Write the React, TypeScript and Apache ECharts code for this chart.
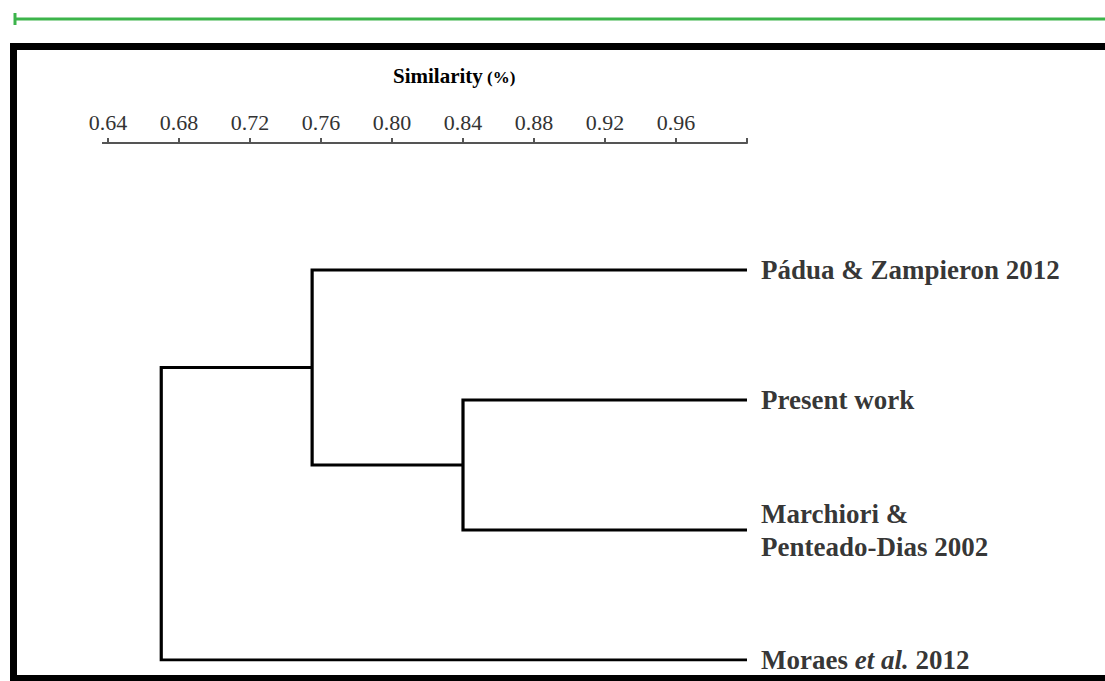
import React, { useEffect, useRef } from "react";
import * as echarts from "echarts";

const leafLabels = [
  "Pádua & Zampieron 2012",
  "Present work",
  "Marchiori &\nPenteado-Dias 2002",
  "{b|Moraes }{i|et al.}{b| 2012}",
];
const leafSimilarity = 1.0;
// merges: [childA, childB, similarity]; children: leaf index (number) or "n<k>" for merge k
const mergeA = [1, 0, "n1"];
const mergeB = [2, "n0", 3];
const mergeSimilarity = [0.84, 0.755, 0.67];
const xTicks = [0.64, 0.68, 0.72, 0.76, 0.8, 0.84, 0.88, 0.92, 0.96];
const axisTitle = "Similarity";
const axisUnit = "(%)";

const FONT = "Liberation Serif";

export default function App() {
  const ref = useRef<HTMLDivElement>(null);
  useEffect(() => {
    const chart = echarts.init(ref.current!, null, { renderer: "svg" });
    const nodePos: Record<string, [number, number]> = {};
    leafLabels.forEach((_, i) => (nodePos[String(i)] = [leafSimilarity, i]));
    const series: any[] = [];
    mergeSimilarity.forEach((h, k) => {
      const p1 = nodePos[String(mergeA[k])];
      const p2 = nodePos[String(mergeB[k])];
      series.push({
        type: "line",
        data: [
          [p1[0], p1[1]],
          [h, p1[1]],
          [h, p2[1]],
          [p2[0], p2[1]],
        ],
        symbol: "none",
        lineStyle: { color: "#000", width: 3.2, join: "miter" },
        silent: true,
      });
      nodePos["n" + k] = [h, (p1[1] + p2[1]) / 2];
    });
    series.push({
      type: "scatter",
      data: leafLabels.map((l, i) => ({ value: [leafSimilarity, i], name: l })),
      symbolSize: 0,
      label: {
        show: true,
        position: "right",
        distance: 14,
        formatter: (p: any) => p.name,
        color: "#000",
        fontFamily: FONT,
        fontWeight: "bold",
        fontSize: 27,
        lineHeight: 33,
        rich: {
          b: { fontFamily: FONT, fontWeight: "bold", fontSize: 27, color: "#000" },
          i: { fontFamily: FONT, fontWeight: "bold", fontStyle: "italic", fontSize: 27, color: "#000" },
        },
      },
      silent: true,
    });

    chart.setOption({
      animation: false,
      backgroundColor: "#fff",
      grid: { left: 108, right: 358, top: 143, height: 517 },
      xAxis: {
        type: "value",
        position: "top",
        min: 0.64,
        max: 1.0,
        interval: 0.04,
        splitLine: { show: false },
        axisLine: { show: true, onZero: false, lineStyle: { color: "#555", width: 2 } },
        axisTick: { show: true, length: 5, lineStyle: { color: "#555", width: 2 } },
        axisLabel: {
          margin: 10,
          color: "#333",
          fontFamily: FONT,
          fontSize: 22,
          formatter: (v: number) =>
            xTicks.some((t) => Math.abs(t - v) < 1e-6) ? v.toFixed(2) : "",
        },
      },
      yAxis: {
        type: "value",
        inverse: true,
        min: -0.977,
        max: 3,
        show: false,
      },
      graphic: [
        {
          type: "line",
          shape: { x1: 15, y1: 19, x2: 1105, y2: 19 },
          style: { stroke: "#3cb44b", lineWidth: 3 },
        },
        {
          type: "line",
          shape: { x1: 15, y1: 13, x2: 15, y2: 25 },
          style: { stroke: "#3cb44b", lineWidth: 3 },
        },
        {
          type: "line",
          shape: { x1: 102, y1: 143, x2: 108, y2: 143 },
          style: { stroke: "#555", lineWidth: 2 },
        },
        {
          type: "rect",
          shape: { x: 13.5, y: 46.5, width: 1200, height: 632 },
          style: { fill: "none", stroke: "#000", lineWidth: 7 },
        },
        {
          type: "text",
          x: 393,
          y: 76,
          style: {
            text: axisTitle,
            fontFamily: FONT,
            fontWeight: "bold",
            fontSize: 21,
            fill: "#000",
            verticalAlign: "middle",
          },
        },
        {
          type: "text",
          x: 487,
          y: 77,
          style: {
            text: axisUnit,
            fontFamily: FONT,
            fontWeight: "bold",
            fontSize: 17,
            fill: "#000",
            verticalAlign: "middle",
          },
        },
      ],
      series,
    });
    return () => chart.dispose();
  }, []);
  return (
    <div
      ref={ref}
      style={{ position: "fixed", left: 0, top: 0, width: 1105, height: 681, background: "#fff" }}
    />
  );
}
